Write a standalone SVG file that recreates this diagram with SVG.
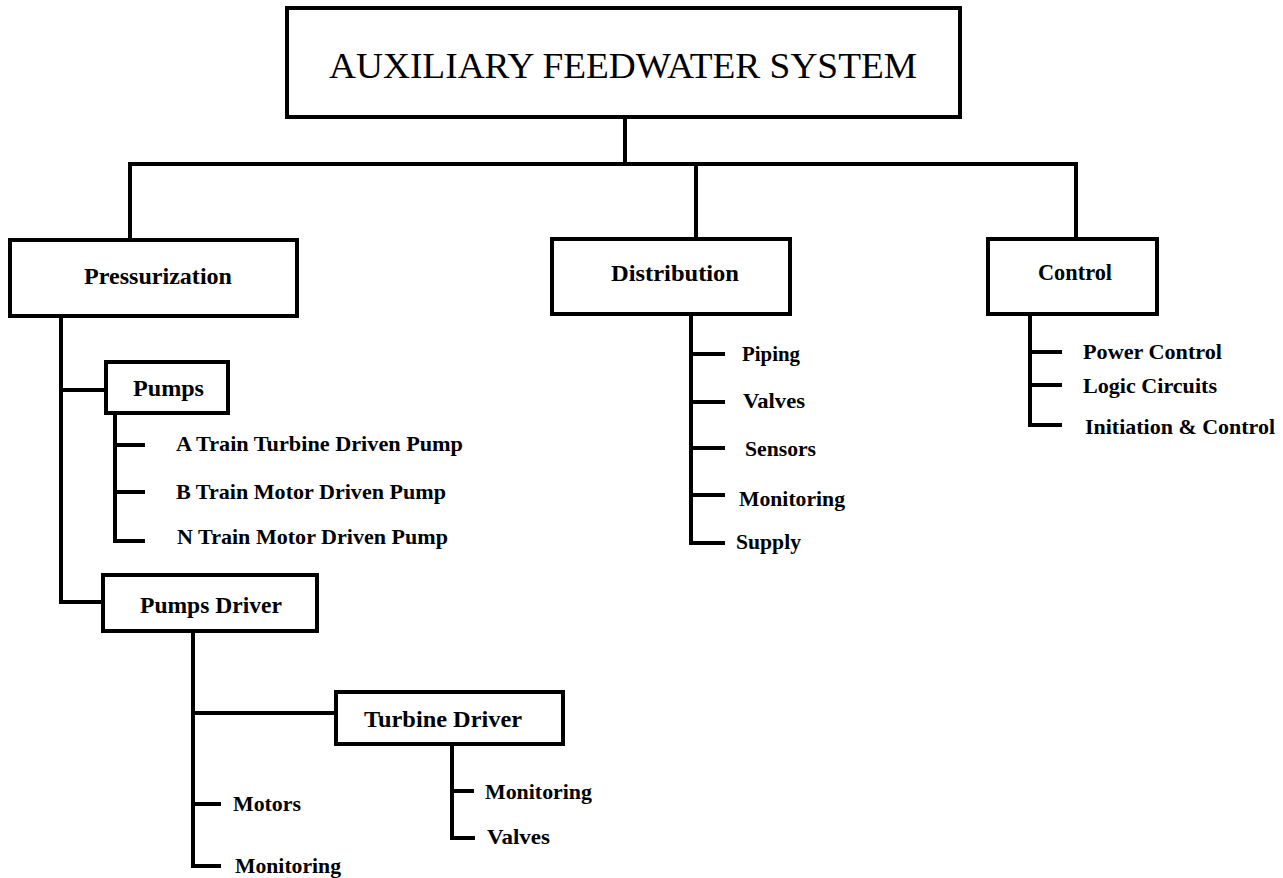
<svg xmlns="http://www.w3.org/2000/svg" width="1283" height="878" viewBox="0 0 1283 878">
<style>
.box{fill:#fff;stroke:#000;stroke-width:4}
.ln{fill:none;stroke:#000;stroke-width:4;stroke-linejoin:miter;stroke-linecap:square}
.t{font-family:"Liberation Serif","Times New Roman",serif;fill:#000}
.title{font-size:35px}
.lbl{font-size:24px;font-weight:bold}
.item{font-size:22px;font-weight:bold}
</style>
<rect width="1283" height="878" fill="#fff"/>
<g id="connectors">
<path class="ln" d="M625 117 V164 M130 240 V164 H1076 V240 M696 164 V239"/>
<path class="ln" d="M61 316 V602 H103 M61 390 H106"/>
<path class="ln" d="M115 413 V541 H143 M115 445 H143 M115 492 H143"/>
<path class="ln" d="M193 631 V866 H219 M193 804 H219 M193 713 H336"/>
<path class="ln" d="M452 744 V838 H473 M452 791 H472"/>
<path class="ln" d="M691 314 V543 H723 M691 354 H723 M691 402 H723 M691 448 H723 M691 495 H723"/>
<path class="ln" d="M1030 314 V425 H1060 M1030 352 H1060 M1030 385 H1060"/>
</g>
<g id="node-auxiliary">
<rect class="box" x="287" y="8" width="673" height="109"/>
<text class="t title" x="329" y="78" textLength="588" lengthAdjust="spacingAndGlyphs">AUXILIARY FEEDWATER SYSTEM</text>
</g>
<g id="node-pressurization">
<rect class="box" x="10" y="240" width="287" height="76"/>
<text class="t lbl" x="84" y="284" textLength="148" lengthAdjust="spacingAndGlyphs">Pressurization</text>
</g>
<g id="node-pumps">
<rect class="box" x="106" y="362" width="122" height="51"/>
<text class="t lbl" x="133" y="396" textLength="71" lengthAdjust="spacingAndGlyphs">Pumps</text>
</g>
<g id="node-pump-a"><text class="t item" x="176" y="451" textLength="287" lengthAdjust="spacingAndGlyphs">A Train Turbine Driven Pump</text></g>
<g id="node-pump-b"><text class="t item" x="176" y="499" textLength="270" lengthAdjust="spacingAndGlyphs">B Train Motor Driven Pump</text></g>
<g id="node-pump-n"><text class="t item" x="177" y="544" textLength="271" lengthAdjust="spacingAndGlyphs">N Train Motor Driven Pump</text></g>
<g id="node-pumps-driver">
<rect class="box" x="103" y="575" width="214" height="56"/>
<text class="t lbl" x="140" y="613" textLength="142" lengthAdjust="spacingAndGlyphs">Pumps Driver</text>
</g>
<g id="node-turbine-driver">
<rect class="box" x="336" y="692" width="227" height="52"/>
<text class="t lbl" x="364" y="727" textLength="158" lengthAdjust="spacingAndGlyphs">Turbine Driver</text>
</g>
<g id="node-motors"><text class="t item" x="233" y="811" textLength="68" lengthAdjust="spacingAndGlyphs">Motors</text></g>
<g id="node-pd-monitoring"><text class="t item" x="235" y="873" textLength="106" lengthAdjust="spacingAndGlyphs">Monitoring</text></g>
<g id="node-td-monitoring"><text class="t item" x="485" y="799" textLength="107" lengthAdjust="spacingAndGlyphs">Monitoring</text></g>
<g id="node-td-valves"><text class="t item" x="487" y="844" textLength="63" lengthAdjust="spacingAndGlyphs">Valves</text></g>
<g id="node-distribution">
<rect class="box" x="552" y="239" width="238" height="75"/>
<text class="t lbl" x="611" y="281" textLength="128" lengthAdjust="spacingAndGlyphs">Distribution</text>
</g>
<g id="node-piping"><text class="t item" x="742" y="361" textLength="58" lengthAdjust="spacingAndGlyphs">Piping</text></g>
<g id="node-valves"><text class="t item" x="743" y="408" textLength="62" lengthAdjust="spacingAndGlyphs">Valves</text></g>
<g id="node-sensors"><text class="t item" x="745" y="456" textLength="71" lengthAdjust="spacingAndGlyphs">Sensors</text></g>
<g id="node-monitoring"><text class="t item" x="739" y="506" textLength="106" lengthAdjust="spacingAndGlyphs">Monitoring</text></g>
<g id="node-supply"><text class="t item" x="736" y="549" textLength="65" lengthAdjust="spacingAndGlyphs">Supply</text></g>
<g id="node-control">
<rect class="box" x="988" y="239" width="169" height="75"/>
<text class="t lbl" x="1038" y="280" textLength="74" lengthAdjust="spacingAndGlyphs">Control</text>
</g>
<g id="node-power-control"><text class="t item" x="1083" y="359" textLength="139" lengthAdjust="spacingAndGlyphs">Power Control</text></g>
<g id="node-logic-circuits"><text class="t item" x="1083" y="393" textLength="134" lengthAdjust="spacingAndGlyphs">Logic Circuits</text></g>
<g id="node-initiation"><text class="t item" x="1085" y="434" textLength="190" lengthAdjust="spacingAndGlyphs">Initiation &amp; Control</text></g>
</svg>
